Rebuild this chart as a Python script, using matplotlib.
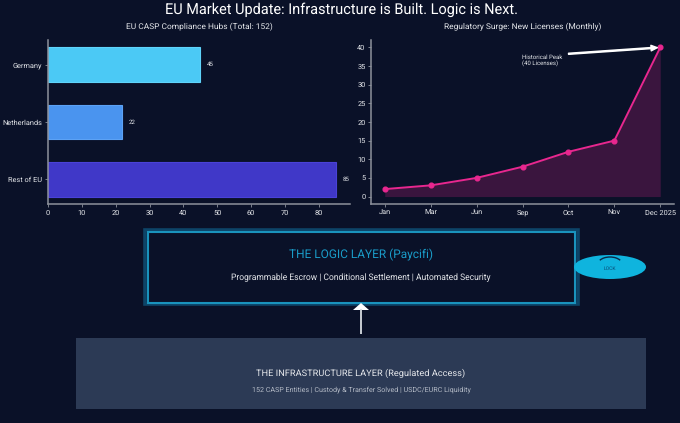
import matplotlib
matplotlib.use('Agg')
import matplotlib.pyplot as plt
from matplotlib.patches import Rectangle, Ellipse, Arc, Polygon

plt.rcParams['font.family'] = ['Roboto', 'DejaVu Sans']
plt.rcParams['text.hinting'] = 'no_hinting'

# data
hubs = ['Germany', 'Netherlands', 'Rest of EU']
hub_counts = [45, 22, 85]
hub_colors = ['#4bc9f5', '#4a94ef', '#4038c8']
hub_edges = ['#5fd3fa', '#5ca2f5', '#4a42d8']

months = ['Jan', 'Mar', 'Jun', 'Sep', 'Oct', 'Nov', 'Dec 2025']
licenses = [2, 3, 5, 8, 12, 15, 40]

BG = '#0a1128'
W, H = 680, 423
TXT = '#e4e6ea'
SPINE = '#8d919b'

fig = plt.figure(figsize=(W / 100, H / 100), dpi=100, facecolor=BG)


def axes_px(x0, y0, x1, y1):
    return fig.add_axes([x0 / W, 1 - y1 / H, (x1 - x0) / W, (y1 - y0) / H], facecolor='none')


def style(ax):
    for s in ['top', 'right']:
        ax.spines[s].set_visible(False)
    for s in ['left', 'bottom']:
        ax.spines[s].set_color(SPINE)
        ax.spines[s].set_linewidth(1.1)
    ax.tick_params(colors=TXT, labelsize=5.3, length=2, width=0.6, pad=2, color=SPINE)


# left chart
ax1 = axes_px(48, 40, 350, 204)
ax1.barh(hubs, hub_counts, height=0.6, color=hub_colors, edgecolor=hub_edges, linewidth=0.8)
ax1.invert_yaxis()
for i, v in enumerate(hub_counts):
    ax1.text(v + 2, i, str(v), color=TXT, fontsize=4.4, va='center', ha='left')
ax1.set_xticks(range(0, 90, 10))
ax1.set_xlim(0, 89.25)
style(ax1)
ax1.set_title('EU CASP Compliance Hubs (Total: 152)', color=TXT, fontsize=6.0, pad=8)

# right chart
ax2 = axes_px(371, 40, 674, 204)
ax2.fill_between(range(len(months)), licenses, color='#e8278f', alpha=0.22, linewidth=0)
ax2.plot(range(len(months)), licenses, color='#e8278f', lw=1.4, marker='o', ms=3.4)
ax2.set_xticks(range(len(months)))
ax2.set_xticklabels(months)
ax2.set_yticks(range(0, 45, 5))
ax2.set_ylim(-2, 42)
style(ax2)
ax2.set_title('Regulatory Surge: New Licenses (Monthly)', color=TXT, fontsize=6.05, pad=8)
ax2.annotate('Historical Peak\n(40 Licenses)', xy=(6, 40), xytext=(3, 36.5),
             color=TXT, fontsize=4.3, va='center', ha='left', linespacing=1.15,
             arrowprops=dict(facecolor='white', edgecolor='white', width=0.8,
                             headwidth=4, headlength=4.5, shrink=0.03))

# diagram layer, pixel coordinates
ov = fig.add_axes([0, 0, 1, 1], facecolor='none')
ov.set_xlim(0, W)
ov.set_ylim(H, 0)
ov.axis('off')

ov.text(341.5, 10, 'EU Market Update: Infrastructure is Built. Logic is Next.', color='white',
        fontsize=10.45, ha='center', va='center')

ov.add_patch(Rectangle((145, 230), 433, 74, fill=False, edgecolor='#0d4468', lw=2.6))
ov.add_patch(Rectangle((147.5, 232), 427.5, 71, fill=False, edgecolor='#1a93bd', lw=1.5))
ov.text(361, 255, 'THE LOGIC LAYER (Paycifi)', color='#1a9cc8', fontsize=8.6, ha='center', va='center')
ov.text(361, 278, 'Programmable Escrow | Conditional Settlement | Automated Security', color=TXT,
        fontsize=6.15, ha='center', va='center')

ov.add_patch(Ellipse((610, 267), 72, 24, facecolor='#0fb4de', edgecolor='none', zorder=3))
ov.add_patch(Arc((610, 264), 24, 14, theta1=200, theta2=340, edgecolor='#0a2a48', lw=1.0, zorder=4))
ov.text(610, 268.5, 'LOCK', color='#0a4d78', fontsize=3.6, ha='center', va='center', zorder=4)

ov.add_patch(Rectangle((76, 338), 570, 71, facecolor='#2c3a55', edgecolor='none'))
ov.text(361, 373, 'THE INFRASTRUCTURE LAYER (Regulated Access)', color=TXT, fontsize=6.7,
        ha='center', va='center')
ov.text(361, 390, '152 CASP Entities | Custody & Transfer Solved | USDC/EURC Liquidity', color='#b4bac6',
        fontsize=5.15, ha='center', va='center')

ov.plot([361, 361], [309, 334], color='#d8dce2', lw=1.3, solid_capstyle='butt')
ov.add_patch(Polygon([(361, 303), (353, 310), (369, 310)], closed=True, facecolor='white', edgecolor='none'))

fig.savefig('out.png', dpi=100, facecolor=BG)
